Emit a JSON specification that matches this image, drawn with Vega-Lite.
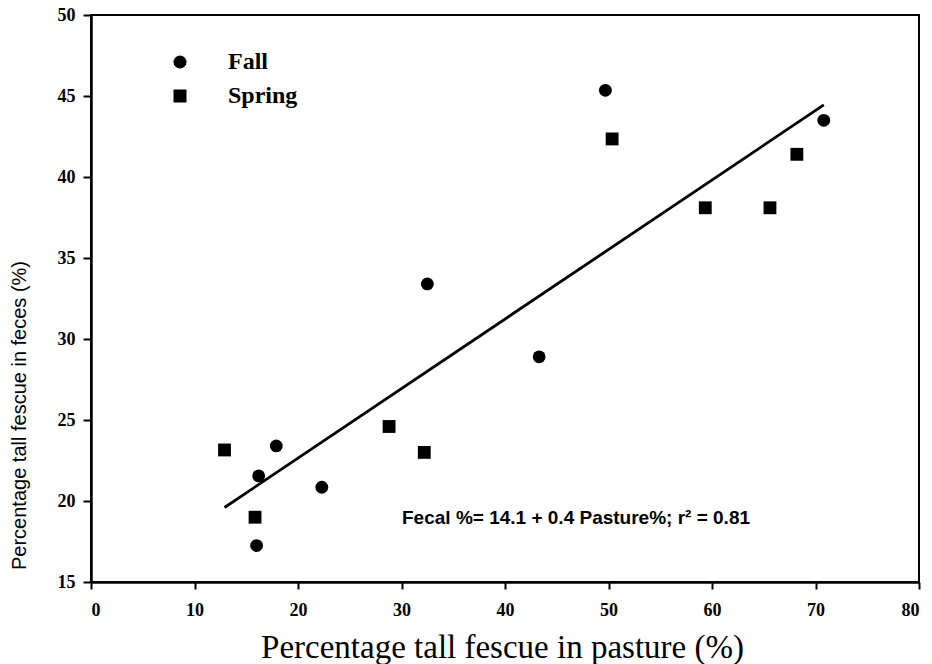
{
  "$schema": "https://vega.github.io/schema/vega-lite/v6.json",
  "autosize": {"type": "none"},
  "width": 828,
  "height": 567,
  "padding": {"left": 91, "top": 15, "right": 13, "bottom": 82},
  "background": "white",
  "config": {
    "view": {"stroke": "black", "strokeWidth": 2},
    "axis": {
      "domainColor": "black",
      "domainWidth": 2.5,
      "tickColor": "black",
      "tickWidth": 2,
      "grid": false,
      "labelFont": "Liberation Serif",
      "labelFontWeight": "bold",
      "labelFontSize": 18,
      "labelColor": "black",
      "titleColor": "black"
    }
  },
  "datasets": {
    "points": [
      {"pasture": 16.2, "feces": 21.55, "season": "Fall"},
      {"pasture": 17.9, "feces": 23.4, "season": "Fall"},
      {"pasture": 22.3, "feces": 20.85, "season": "Fall"},
      {"pasture": 16.0, "feces": 17.25, "season": "Fall"},
      {"pasture": 32.5, "feces": 33.4, "season": "Fall"},
      {"pasture": 43.3, "feces": 28.9, "season": "Fall"},
      {"pasture": 49.7, "feces": 45.35, "season": "Fall"},
      {"pasture": 70.8, "feces": 43.5, "season": "Fall"},
      {"pasture": 12.9, "feces": 23.15, "season": "Spring"},
      {"pasture": 15.85, "feces": 19.0, "season": "Spring"},
      {"pasture": 28.8, "feces": 24.6, "season": "Spring"},
      {"pasture": 32.2, "feces": 23.0, "season": "Spring"},
      {"pasture": 50.35, "feces": 42.35, "season": "Spring"},
      {"pasture": 59.35, "feces": 38.1, "season": "Spring"},
      {"pasture": 65.6, "feces": 38.1, "season": "Spring"},
      {"pasture": 68.2, "feces": 41.4, "season": "Spring"}
    ],
    "fit": [
      {"pasture": 12.9, "feces": 19.6},
      {"pasture": 70.8, "feces": 44.45}
    ],
    "note": [
      {"pasture": 30.05, "feces": 18.95, "label": "Fecal %= 14.1 + 0.4 Pasture%; r² = 0.81"}
    ]
  },
  "layer": [
    {
      "data": {"name": "fit"},
      "mark": {"type": "line", "color": "black", "strokeWidth": 2.8},
      "encoding": {
        "x": {"field": "pasture", "type": "quantitative"},
        "y": {"field": "feces", "type": "quantitative"}
      }
    },
    {
      "data": {"name": "points"},
      "mark": {"type": "point", "filled": true, "opacity": 1, "size": 165, "color": "black"},
      "encoding": {
        "x": {
          "field": "pasture",
          "type": "quantitative",
          "scale": {"domain": [0, 80], "nice": false, "zero": false},
          "axis": {
            "values": [0, 10, 20, 30, 40, 50, 60, 70, 80],
            "tickSize": 7,
            "labelPadding": 12,
            "title": "Percentage tall fescue in pasture (%)",
            "titleFont": "Liberation Serif",
            "titleFontSize": 33,
            "titleFontWeight": "normal",
            "titleX": 411,
            "titleY": 75,
            "titleAlign": "center",
            "titleBaseline": "alphabetic"
          }
        },
        "y": {
          "field": "feces",
          "type": "quantitative",
          "scale": {"domain": [15, 50], "nice": false, "zero": false},
          "axis": {
            "values": [15, 20, 25, 30, 35, 40, 45, 50],
            "tickSize": 8,
            "labelPadding": 8,
            "title": "Percentage tall fescue in feces (%)",
            "titleFont": "Liberation Sans",
            "titleFontSize": 20,
            "titleFontWeight": "normal",
            "titleAngle": 270,
            "titleX": -72,
            "titleY": 400,
            "titleAlign": "center",
            "titleBaseline": "middle"
          }
        },
        "shape": {
          "field": "season",
          "type": "nominal",
          "scale": {"domain": ["Fall", "Spring"], "range": ["circle", "square"]},
          "legend": {
            "title": null,
            "orient": "none",
            "legendX": 77,
            "legendY": 35,
            "symbolSize": 170,
            "symbolFillColor": "black",
            "symbolStrokeColor": "black",
            "labelFont": "Liberation Serif",
            "labelFontWeight": "bold",
            "labelFontSize": 24,
            "labelColor": "black",
            "labelOffset": 36,
            "rowPadding": 10
          }
        }
      }
    },
    {
      "data": {"name": "note"},
      "mark": {"type": "text", "align": "left", "baseline": "middle", "font": "Liberation Sans", "fontWeight": "bold", "fontSize": 19, "color": "black"},
      "encoding": {
        "x": {"field": "pasture", "type": "quantitative"},
        "y": {"field": "feces", "type": "quantitative"},
        "text": {"field": "label"}
      }
    }
  ]
}
